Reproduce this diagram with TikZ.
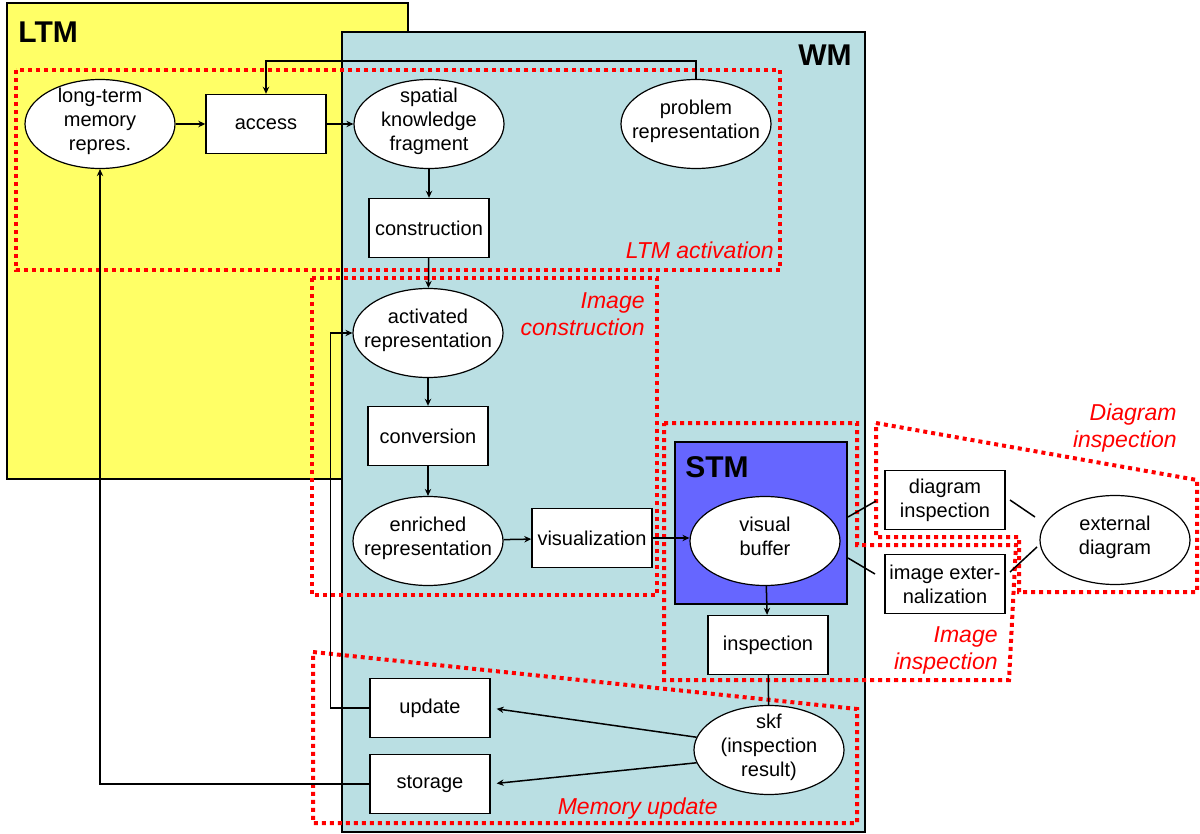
\documentclass[tikz,border=0pt]{standalone}
\usepackage{fontspec}
\setmainfont{Liberation Sans}
\usetikzlibrary{shapes.geometric,arrows.meta,calc}
\definecolor{ltmyellow}{HTML}{FFFF66}
\definecolor{wmblue}{HTML}{BADFE3}
\definecolor{stmblue}{HTML}{6666FF}
\newcommand{\ovtext}[1]{\makebox[0pt]{\raisebox{-0.25em}{\smash{\begin{tabular}{@{}c@{}}#1\end{tabular}}}}}
\begin{document}
\begin{tikzpicture}[x=0.5pt,y=-0.5pt,
  box/.style={draw=black,line width=0.7pt,fill=white,minimum width=60pt,minimum height=29.5pt,inner sep=1pt,align=center,font=\fontsize{10}{12}\selectfont},
  oval/.style={ellipse,draw=black,line width=0.6pt,fill=white,minimum width=75pt,minimum height=44.5pt,inner sep=0pt,font=\fontsize{10}{12}\selectfont},
  arr/.style={draw,line width=0.75pt,-{Stealth[length=3.5pt,width=3.2pt]}},
  conn/.style={draw,line width=0.75pt},
  region/.style={draw=red,line width=2pt,dash pattern=on 2pt off 2pt},
  rlabel/.style={text=red,font=\fontsize{11.5}{13.5}\selectfont\itshape,align=right,inner sep=0pt},
  title/.style={font=\fontsize{15}{18}\selectfont\bfseries,inner sep=0pt}]
\useasboundingbox (0,0) rectangle (1200,834);
% memory areas
\path[fill=ltmyellow,draw=black,line width=0.6pt] (7,3) rectangle (408,479);
\path[fill=wmblue,draw=black,line width=0.6pt] (342,32) rectangle (865,832);
\path[fill=stmblue,draw=black,line width=0.7pt] (675,442) rectangle (847,604);
\node[title,anchor=base west] (ltmt) at (18,43) {LTM};
\node[title,anchor=base east] (wmt) at (852,66) {WM};
\node[title,anchor=base west] (stmt) at (685,477) {STM};
% dotted regions
\draw[region] (16,70) rectangle (780,270);
\draw[region] (312,278) rectangle (657,595);
\draw[region] (664,423) -- (857,423) -- (857,545) -- (1016,545) -- (1009,680) -- (664,680) -- cycle;
\draw[region] (876,423) -- (1197,480) -- (1197,592) -- (1019,592) -- (1019,537) -- (876,537) -- cycle;
\draw[region] (313,652) -- (857,709) -- (857,823) -- (313,823) -- cycle;
\node[rlabel,anchor=base east] (lab1) at (774,259) {LTM activation};
\node[rlabel,anchor=north east] (lab2) at (645,292) {Image\\construction};
\node[rlabel,anchor=north east] (lab3) at (1177,403) {Diagram\\inspection};
\node[rlabel,anchor=north east] (lab4) at (998,626) {Image\\inspection};
\node[rlabel,anchor=base east] (lab5) at (718,814) {Memory update};
% nodes
\node[oval] (ltm) at (100,124) {\ovtext{long-term\\memory\\repres.}};
\node[box] (acc) at (266,124) {access};
\node[oval] (skf) at (429,124) {\ovtext{spatial\\knowledge\\fragment}};
\node[oval] (prob) at (696,124) {\ovtext{problem\\representation}};
\node[box] (cons) at (429,228) {construction};
\node[oval] (act) at (428,333) {\ovtext{activated\\representation}};
\node[box] (conv) at (428,436) {conversion};
\node[oval] (enr) at (428,541) {\ovtext{enriched\\representation}};
\node[box] (vis) at (592,538) {visualization};
\node[oval] (vb) at (765,541) {\ovtext{visual\\buffer}};
\node[box] (insp) at (768,645) {inspection};
\node[box] (dins) at (945,500) {diagram\\inspection};
\node[box] (iext) at (945,584) {image exter-\\nalization};
\node[oval] (ext) at (1115,540) {\ovtext{external\\diagram}};
\node[box] (upd) at (430,708) {update};
\node[box] (stor) at (430,784) {storage};
\node[oval] (skfr) at (769,750) {\ovtext{skf\\(inspection\\result)}};
% connectors
\coordinate (topline) at (0,61);
\draw[arr] (ltm) -- (acc);
\draw[arr] (acc) -- (skf);
\draw[arr] (prob.north) -- (prob.north |- topline) -| (acc.north);
\draw[arr] (skf) -- (cons);
\draw[arr] (cons) -- (act);
\draw[arr] (act) -- (conv);
\draw[arr] (conv) -- (enr);
\draw[arr] (enr) -- (vis);
\draw[arr] (vis.east) -- (vb.west |- vis.east);
\draw[arr] (vb) -- (insp);
\draw[conn] (insp) -- (skfr);
\draw[arr,shorten >=3pt] (skfr.170) -- (upd.east);
\draw[arr,shorten >=3pt] (skfr.190) -- (stor.east);
\draw[arr] (upd.west) -- ++(-39,0) |- (act.west);
\draw[arr] (stor.west) -| (ltm.south);
% short links around the visual buffer
\coordinate (a1) at (848,517);
\coordinate (a2) at (876,501);
\coordinate (b1) at (848,558);
\coordinate (b2) at (875,574);
\coordinate (c1) at (1035,517);
\coordinate (c2) at (1010,500);
\coordinate (d1) at (1010,572);
\coordinate (d2) at (1037,547);
\draw[conn] (a1) -- (a2);
\draw[conn] (b1) -- (b2);
\draw[conn] (c1) -- (c2);
\draw[conn] (d1) -- (d2);
\end{tikzpicture}
\end{document}
